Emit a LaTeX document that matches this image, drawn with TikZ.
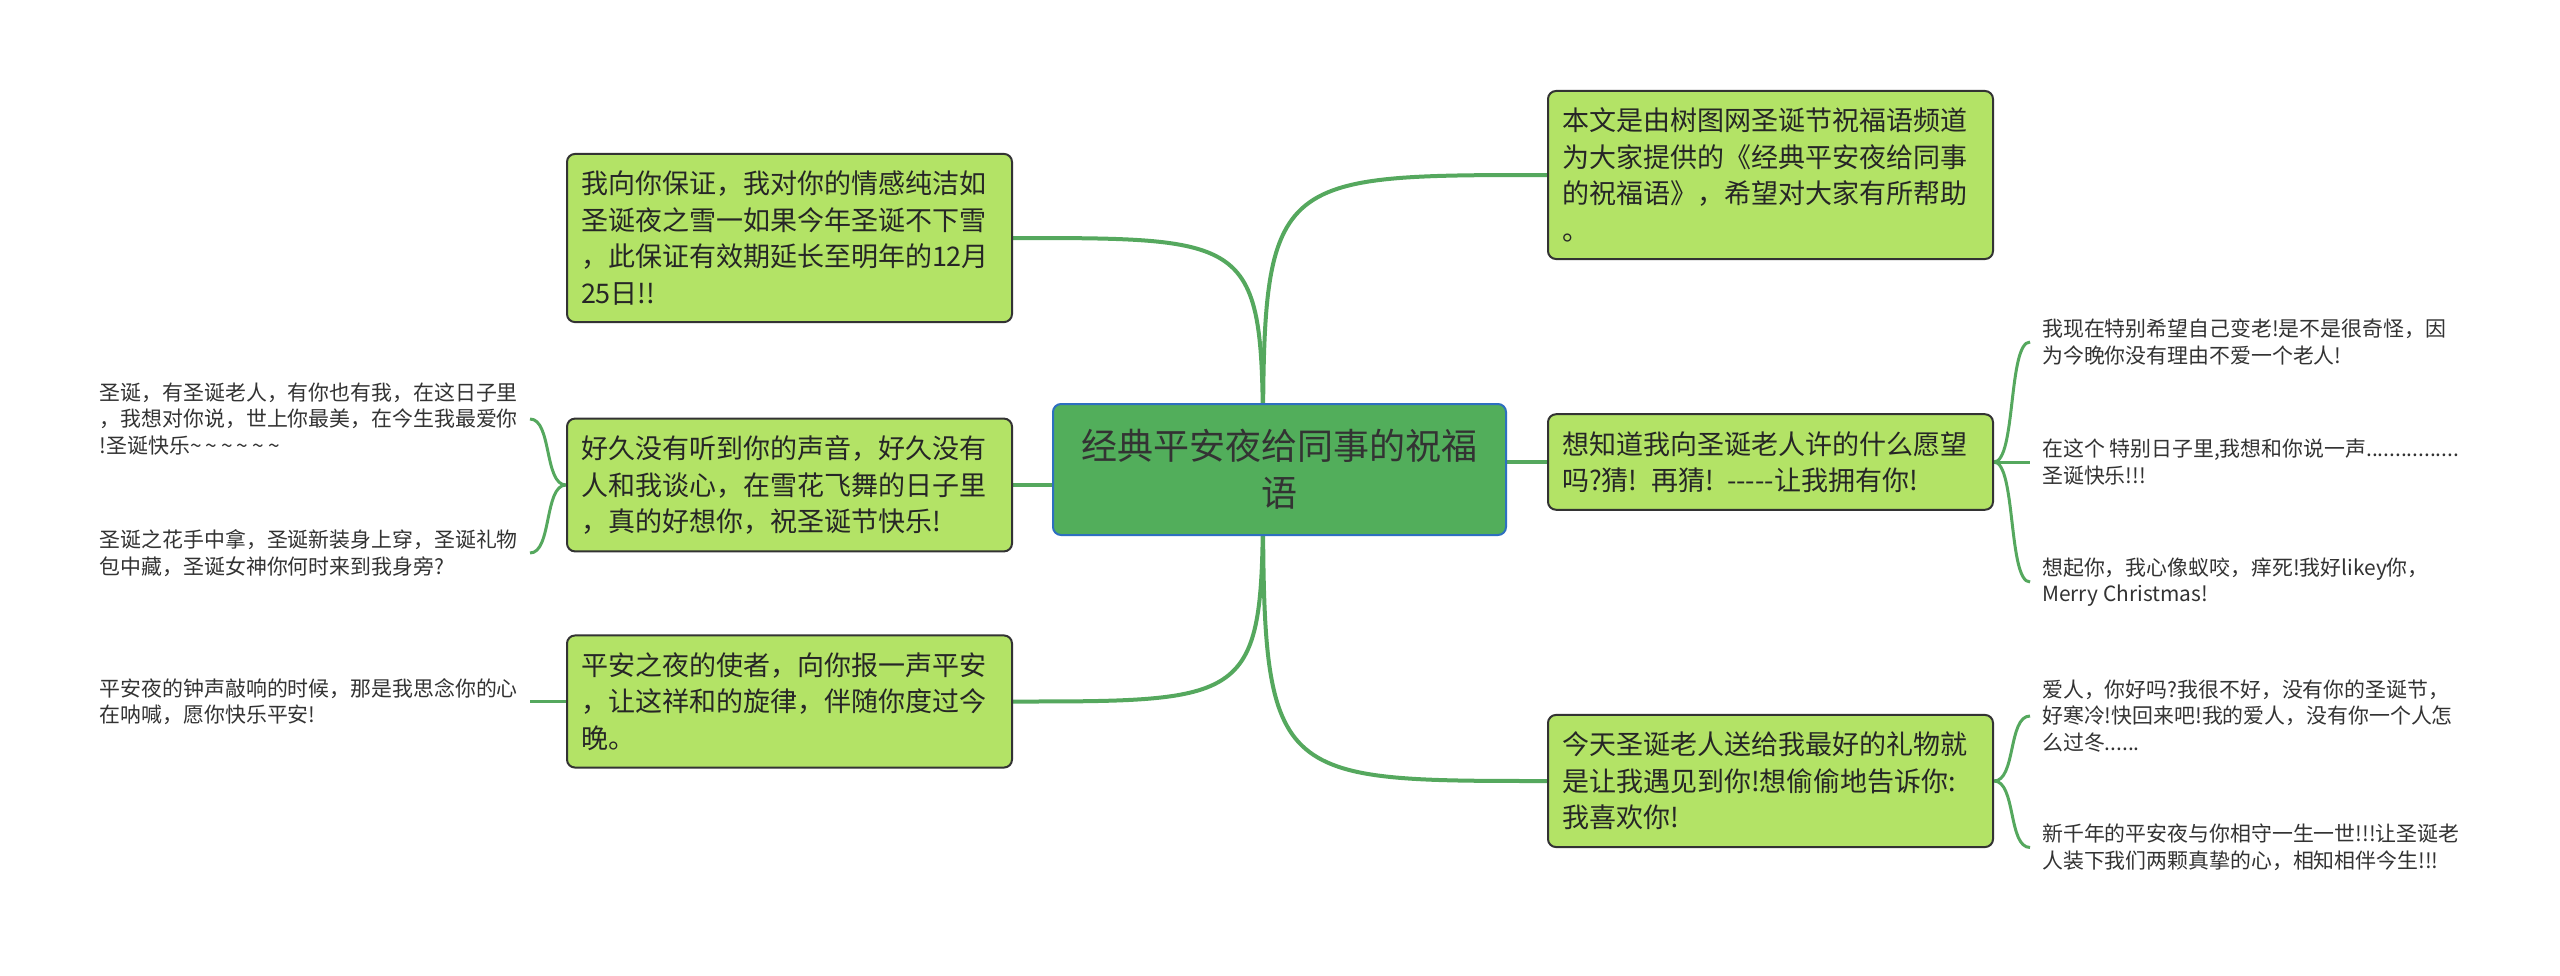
\documentclass[tikz,border=0pt]{standalone}
\usepackage{fontspec}
\newfontfamily\cjk{Noto Sans CJK SC}
\usetikzlibrary{backgrounds}

\definecolor{rootfill}{HTML}{52AE5B}
\definecolor{rootline}{HTML}{2E6FC0}
\definecolor{topicfill}{HTML}{B3E366}
\definecolor{linkgreen}{HTML}{55A85E}
\definecolor{inkgray}{HTML}{333333}

\newcommand{\wave}{\textasciitilde\kern4pt}

\tikzset{
  root/.style={draw=rootline, line width=2pt, fill=rootfill, rounded corners=8pt,
    minimum width=453pt, minimum height=131pt, align=center, text=inkgray,
    font=\cjk\fontsize{36}{47}\selectfont},
  topic/.style={draw=inkgray, line width=2pt, fill=topicfill, rounded corners=8pt,
    text width=417pt, inner xsep=14pt, inner ysep=17pt, align=left, text=black!85,
    font=\cjk\fontsize{27}{36.5}\selectfont},
  leaf/.style={inner xsep=12pt, inner ysep=0pt, align=left, text=inkgray,
    font=\cjk\fontsize{20.9}{26.5}\selectfont},
  link/.style={draw=linkgreen, line width=4pt},
  twig/.style={draw=linkgreen, line width=3pt},
}

\begin{document}
\begin{tikzpicture}[x=1pt, y=-1pt]
        \useasboundingbox (0,0) rectangle (2560,975);

        % Central topic
        \node[root] (root) at (1279.5,469.5) {经典平安夜给同事的祝福\\语};
        \coordinate (hub) at (1263,469.5);

        % Left topics
        \node[topic, anchor=east] (b1) at (1013,238) {我向你保证，我对你的情感纯洁如\\圣诞夜之雪一如果今年圣诞不下雪\\，此保证有效期延长至明年的12月\\25日!!};
        \node[topic, anchor=east] (b2) at (1013,485) {好久没有听到你的声音，好久没有\\人和我谈心，在雪花飞舞的日子里\\，真的好想你，祝圣诞节快乐!};
        \node[topic, anchor=east] (b3) at (1013,701.5) {平安之夜的使者，向你报一声平安\\，让这祥和的旋律，伴随你度过今\\晚。};

        % Right topics
        \node[topic, anchor=west] (r1) at (1547,175) {本文是由树图网圣诞节祝福语频道\\为大家提供的《经典平安夜给同事\\的祝福语》，希望对大家有所帮助\\。};
        \node[topic, anchor=west] (r2) at (1547,462) {想知道我向圣诞老人许的什么愿望\\吗?猜! 再猜! -----让我拥有你!};
        \node[topic, anchor=west] (r3) at (1547,781) {今天圣诞老人送给我最好的礼物就\\是让我遇见到你!想偷偷地告诉你:\\我喜欢你!};

        % Left leaves
        \node[leaf, anchor=east] (l1) at (530,419) {圣诞，有圣诞老人，有你也有我，在这日子里\\，我想对你说，世上你最美，在今生我最爱你\\!圣诞快乐\wave\wave\wave\wave\wave\textasciitilde};
        \node[leaf, anchor=east] (l2) at (530,553) {圣诞之花手中拿，圣诞新装身上穿，圣诞礼物\\包中藏，圣诞女神你何时来到我身旁?};
        \node[leaf, anchor=east] (l3) at (530,701.5) {平安夜的钟声敲响的时候，那是我思念你的心\\在呐喊，愿你快乐平安!};

        % Right leaves
        \node[leaf, anchor=west] (m1) at (2030,342) {我现在特别希望自己变老!是不是很奇怪，因\\为今晚你没有理由不爱一个老人!};
        \node[leaf, anchor=west] (m2) at (2030,462) {在这个 特别日子里,我想和你说一声................\\圣诞快乐!!!};
        \node[leaf, anchor=west] (m3) at (2030,582) {想起你，我心像蚁咬，痒死!我好likey你，\\Merry Christmas!};
        \node[leaf, anchor=west] (n1) at (2030,716) {爱人，你好吗?我很不好，没有你的圣诞节，\\好寒冷!快回来吧!我的爱人，没有你一个人怎\\么过冬......};
        \node[leaf, anchor=west] (n2) at (2030,847.5) {新千年的平安夜与你相守一生一世!!!让圣诞老\\人装下我们两颗真挚的心，相知相伴今生!!!};

        % Connectors, behind the boxes
        \begin{scope}[on background layer]
          \fill[white] (0,0) rectangle (2560,975);
          \draw[link] (hub) .. controls (hub |- b1) .. (b1.east);
          \draw[link] (hub) .. controls (hub |- r1) .. (r1.west);
          \draw[link] (hub) .. controls (hub |- b3) .. (b3.east);
          \draw[link] (hub) .. controls (hub |- r3) .. (r3.west);
          \draw[link] (root.west |- b2.east) -- (b2.east);
          \draw[link] (root.east |- r2.west) -- (r2.west);

          \draw[twig] (b2.west) .. controls +(-22,0) and +(22,0) .. (l1.east);
          \draw[twig] (b2.west) .. controls +(-22,0) and +(22,0) .. (l2.east);
          \draw[twig] (b3.west) -- (l3.east);
          \draw[twig] (r2.east) .. controls +(22,0) and +(-22,0) .. (m1.west);
          \draw[twig] (r2.east) -- (m2.west);
          \draw[twig] (r2.east) .. controls +(22,0) and +(-22,0) .. (m3.west);
          \draw[twig] (r3.east) .. controls +(22,0) and +(-22,0) .. (n1.west);
          \draw[twig] (r3.east) .. controls +(22,0) and +(-22,0) .. (n2.west);
        \end{scope}
\end{tikzpicture}
\end{document}
